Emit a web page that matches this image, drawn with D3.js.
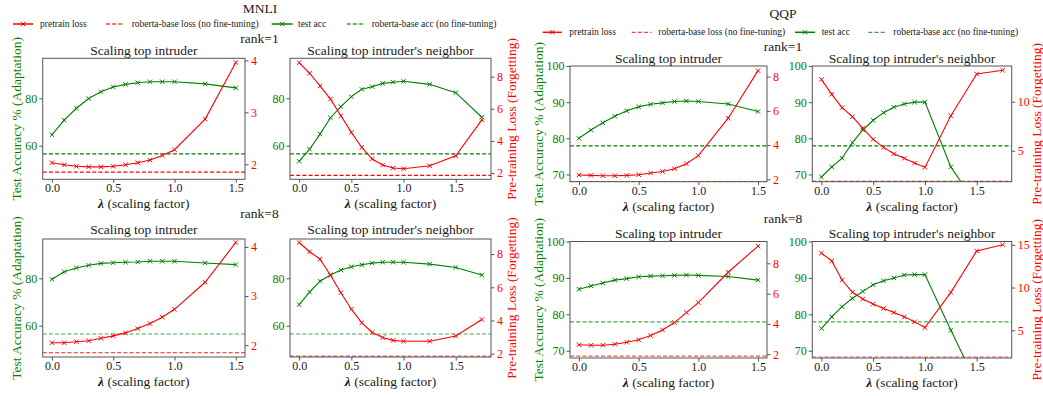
<!DOCTYPE html>
<html><head><meta charset="utf-8">
<script src="https://cdn.jsdelivr.net/npm/d3@7"></script>
<style>
body{margin:0;background:#fff}
svg{display:block}
text{font-family:"Liberation Serif","Times New Roman",serif}
</style>
</head><body>
<svg id="c" width="1043" height="396"></svg>
<script>
// ---------------- DATA ----------------
const lambdaIntruder = [0,0.1,0.2,0.3,0.4,0.5,0.6,0.7,0.8,0.9,1.0,1.25,1.5];
const lambdaNeighbor = [0,0.1,0.2,0.3,0.4,0.5,0.6,0.7,0.8,0.9,1.0,1.25,1.5,1.75];
const xTicks = [0,0.5,1.0,1.5];

// MNLI
const mnliR1IntruderAcc  = [64.6,70.8,75.8,79.9,82.8,84.8,85.9,86.6,87.0,87.0,87.0,86.1,84.4];
const mnliR1IntruderLoss = [2.03,1.99,1.96,1.95,1.95,1.96,1.99,2.03,2.08,2.17,2.28,2.87,3.96];
const mnliR1NeighborAcc  = [53.4,58.5,64.9,71.8,76.5,80.7,83.8,84.9,86.3,86.8,87.2,85.9,82.4,72.0];
const mnliR1NeighborLoss = [8.87,8.21,7.42,6.6,5.56,4.53,3.59,2.87,2.5,2.31,2.27,2.45,3.07,5.31];
const mnliR8IntruderAcc  = [79.6,82.8,84.4,85.5,86.3,86.6,86.8,86.9,87.2,87.2,87.2,86.5,85.8];
const mnliR8IntruderLoss = [2.05,2.05,2.07,2.09,2.14,2.19,2.25,2.34,2.44,2.57,2.73,3.28,4.09];
const mnliR8NeighborAcc  = [68.9,74.2,78.8,81.4,83.5,84.9,85.7,86.4,86.8,86.8,86.8,86.0,84.6,81.4];
const mnliR8NeighborLoss = [8.7,8.14,7.7,6.73,5.67,4.68,3.86,3.28,2.97,2.8,2.75,2.75,3.07,4.06];
const mnliBaseAcc = 56.5;
const mnliBaseLoss = 1.85;

// QQP
const qqpR1IntruderAcc  = [80.0,82.3,84.3,86.1,87.6,88.7,89.4,89.8,90.2,90.3,90.2,89.5,87.4];
const qqpR1IntruderLoss = [2.25,2.23,2.21,2.21,2.23,2.27,2.37,2.46,2.62,2.91,3.38,5.57,8.35];
const qqpR1NeighborAcc  = [69.3,72.1,74.5,78.8,82.3,85.0,87.1,88.6,89.5,90.0,90.0,72.1,61.5,55.0];
const qqpR1NeighborLoss = [12.28,10.75,9.39,8.47,7.28,6.16,5.34,4.69,4.22,3.74,3.3,8.57,12.82,13.2];
const qqpR8IntruderAcc  = [86.9,87.8,88.6,89.4,89.8,90.3,90.5,90.6,90.7,90.8,90.7,90.4,89.4];
const qqpR8IntruderLoss = [2.62,2.59,2.59,2.66,2.79,2.95,3.23,3.6,4.09,4.75,5.41,7.41,9.14];
const qqpR8NeighborAcc  = [76.1,79.3,82.1,84.4,86.3,88.1,89.2,90.0,90.8,90.9,90.9,75.6,61.0,55.0];
const qqpR8NeighborLoss = [14.02,13.12,10.88,9.45,8.65,8.06,7.55,7.08,6.57,5.98,5.31,9.43,14.29,15.0];
const qqpBaseAcc = 77.9;
const qqpBaseLoss = 1.87;

const mnliAccTicks = [60,80];
const qqpAccTicks = [70,80,90,100];
const lossTicksSmall = [2,3,4];
const lossTicksMid = [2,4,6,8];
const lossTicksBig1 = [5,10];
const lossTicksBig2 = [5,10,15];

const titleIntruder = "Scaling top intruder";
const titleNeighbor = "Scaling top intruder's neighbor";
const legendLabels = ["pretrain loss","roberta-base loss (no fine-tuning)","test acc","roberta-base acc (no fine-tuning)"];
const datasetNames = ["MNLI","QQP"];
const rankNames = ["rank=1","rank=8"];

// ---------------- STYLE ----------------
const GREEN = "#008000", RED = "#ff0000", SPINE = "#555", INK = "#1a1a1a";
const svg = d3.select("#c");

const panels = [
  // MNLI rank=1
  {acc:mnliR1IntruderAcc, loss:mnliR1IntruderLoss, lam:lambdaIntruder, bAcc:mnliBaseAcc, bLoss:mnliBaseLoss,
   x0:42.7,x1:245,y0:58.3,y1:179.3, xd:[-0.075,1.575], ad:[45.8,96.9], ld:[1.71,4.04], at:mnliAccTicks, lt:lossTicksSmall,
   title:titleIntruder, ty:50, left:true, dashOp:1},
  {acc:mnliR1NeighborAcc, loss:mnliR1NeighborLoss, lam:lambdaNeighbor, bAcc:mnliBaseAcc, bLoss:mnliBaseLoss,
   x0:290,x1:491,y0:58.3,y1:179.3, xd:[-0.0875,1.8375], ad:[45.8,96.9], ld:[1.61,9.14], at:mnliAccTicks, lt:lossTicksMid,
   title:titleNeighbor, ty:50, right:true, rlx:511.7, dashOp:1},
  // MNLI rank=8
  {acc:mnliR8IntruderAcc, loss:mnliR8IntruderLoss, lam:lambdaIntruder, bAcc:mnliBaseAcc, bLoss:mnliBaseLoss,
   x0:42.7,x1:245,y0:239,y1:357, xd:[-0.075,1.575], ad:[46.8,96.6], ld:[1.76,4.16], at:mnliAccTicks, lt:lossTicksSmall,
   title:titleIntruder, ty:229.5, left:true, dashOp:0.7},
  {acc:mnliR8NeighborAcc, loss:mnliR8NeighborLoss, lam:lambdaNeighbor, bAcc:mnliBaseAcc, bLoss:mnliBaseLoss,
   x0:290,x1:491,y0:239,y1:357, xd:[-0.0875,1.8375], ad:[46.8,96.6], ld:[1.80,8.91], at:mnliAccTicks, lt:lossTicksMid,
   title:titleNeighbor, ty:229.5, right:true, rlx:511.7, dashOp:0.7},
  // QQP rank=1
  {acc:qqpR1IntruderAcc, loss:qqpR1IntruderLoss, lam:lambdaIntruder, bAcc:qqpBaseAcc, bLoss:qqpBaseLoss,
   x0:570,x1:767,y0:66,y1:181.7, xd:[-0.075,1.575], ad:[68,100], ld:[1.86,8.62], at:qqpAccTicks, lt:lossTicksMid,
   title:titleIntruder, ty:58.3, left:true, llx:538, dashOp:1},
  {acc:qqpR1NeighborAcc, loss:qqpR1NeighborLoss, lam:lambdaNeighbor, bAcc:qqpBaseAcc, bLoss:qqpBaseLoss,
   x0:812.3,x1:1011.7,y0:66,y1:181.7, xd:[-0.0875,1.8375], ad:[68,100], ld:[1.84,13.64], at:qqpAccTicks, lt:lossTicksBig1,
   title:titleNeighbor, ty:58.3, right:true, rlx:1036.5, dashOp:1},
  // QQP rank=8
  {acc:qqpR8IntruderAcc, loss:qqpR8IntruderLoss, lam:lambdaIntruder, bAcc:qqpBaseAcc, bLoss:qqpBaseLoss,
   x0:570,x1:767,y0:241.5,y1:358, xd:[-0.075,1.575], ad:[68,100], ld:[1.75,9.44], at:qqpAccTicks, lt:lossTicksMid,
   title:titleIntruder, ty:233.3, left:true, llx:538, dashOp:0.7},
  {acc:qqpR8NeighborAcc, loss:qqpR8NeighborLoss, lam:lambdaNeighbor, bAcc:qqpBaseAcc, bLoss:qqpBaseLoss,
   x0:812.3,x1:1011.7,y0:241.5,y1:358, xd:[-0.0875,1.8375], ad:[68,100], ld:[1.75,15.39], at:qqpAccTicks, lt:lossTicksBig2,
   title:titleNeighbor, ty:233.3, right:true, rlx:1036.5, dashOp:0.7}
];

function xMarker(g, pts, color){
  const s = 2.2;
  g.selectAll(null).data(pts).enter().append("path")
    .attr("d", d => `M${d[0]-s},${d[1]-s}L${d[0]+s},${d[1]+s}M${d[0]-s},${d[1]+s}L${d[0]+s},${d[1]-s}`)
    .attr("stroke", color).attr("stroke-width", 1).attr("fill","none");
}

panels.forEach((p, i) => {
  const g = svg.append("g");
  const x = d3.scaleLinear().domain(p.xd).range([p.x0, p.x1]);
  const yA = d3.scaleLinear().domain(p.ad).range([p.y1, p.y0]);
  const yL = d3.scaleLinear().domain(p.ld).range([p.y1, p.y0]);
  const cid = "clip" + i;
  svg.append("clipPath").attr("id", cid).append("rect")
    .attr("x", p.x0).attr("y", p.y0).attr("width", p.x1 - p.x0).attr("height", p.y1 - p.y0);
  const plot = g.append("g").attr("clip-path", `url(#${cid})`);

  // accuracy
  const accPts = p.lam.map((l, k) => [x(l), yA(p.acc[k])]);
  plot.append("path").attr("d", d3.line()(accPts)).attr("fill","none").attr("stroke",GREEN).attr("stroke-width",1.1);
  xMarker(plot, accPts, GREEN);
  plot.append("line").attr("x1",p.x0).attr("x2",p.x1).attr("y1",yA(p.bAcc)).attr("y2",yA(p.bAcc))
    .attr("stroke",GREEN).attr("stroke-width",1.2).attr("stroke-dasharray","4,2.2").attr("opacity",p.dashOp);

  // loss
  const lossPts = p.lam.map((l, k) => [x(l), yL(p.loss[k])]);
  plot.append("path").attr("d", d3.line()(lossPts)).attr("fill","none").attr("stroke",RED).attr("stroke-width",1.1);
  xMarker(plot, lossPts, RED);
  plot.append("line").attr("x1",p.x0).attr("x2",p.x1).attr("y1",yL(p.bLoss)).attr("y2",yL(p.bLoss))
    .attr("stroke",RED).attr("stroke-width",1.2).attr("stroke-dasharray","4,2.2").attr("opacity",p.dashOp);

  // frame
  g.append("rect").attr("x",p.x0).attr("y",p.y0).attr("width",p.x1-p.x0).attr("height",p.y1-p.y0)
    .attr("fill","none").attr("stroke",SPINE).attr("stroke-width",1);

  // axes
  const ax = g.append("g").attr("transform",`translate(0,${p.y1})`)
    .call(d3.axisBottom(x).tickValues(xTicks).tickFormat(d3.format(".1f")).tickSize(3.5).tickPadding(0.8));
  const ay = g.append("g").attr("transform",`translate(${p.x0},0)`)
    .call(d3.axisLeft(yA).tickValues(p.at).tickFormat(d3.format("d")).tickSize(3.5).tickPadding(2));
  const ar = g.append("g").attr("transform",`translate(${p.x1},0)`)
    .call(d3.axisRight(yL).tickValues(p.lt).tickFormat(d3.format("d")).tickSize(3.5).tickPadding(2.5));
  [ax, ay, ar].forEach(a => {
    a.select(".domain").remove();
    a.selectAll(".tick line").attr("stroke", SPINE);
    a.selectAll(".tick text").attr("font-size", 12).attr("font-family",'"Liberation Serif",serif');
  });
  ax.selectAll(".tick text").attr("fill",INK);
  ay.selectAll(".tick text").attr("fill",GREEN);
  ar.selectAll(".tick text").attr("fill",RED);

  // title
  g.append("text").attr("x",(p.x0+p.x1)/2).attr("y",p.ty).attr("text-anchor","middle")
    .attr("dominant-baseline","central").attr("font-size",13.5).attr("fill",INK).text(p.title);

  // x label
  const xl = g.append("text").attr("x",(p.x0+p.x1)/2).attr("y",p.y1+24).attr("text-anchor","middle")
    .attr("dominant-baseline","central").attr("font-size",13.5).attr("fill",INK);
  xl.append("tspan").attr("font-style","italic").attr("font-weight","bold").text("λ");
  xl.append("tspan").text(" (scaling factor)");

  // y labels
  const cy = (p.y0 + p.y1) / 2;
  if (p.left) {
    const lx = p.llx || 16;
    g.append("text").attr("transform",`translate(${lx},${cy}) rotate(-90)`).attr("text-anchor","middle")
      .attr("dominant-baseline","central").attr("font-size",13.5).attr("fill",GREEN)
      .text("Test Accuracy % (Adaptation)");
  }
  if (p.right) {
    g.append("text").attr("transform",`translate(${p.rlx},${cy}) rotate(-90)`).attr("text-anchor","middle")
      .attr("dominant-baseline","central").attr("font-size",13.5).attr("fill",RED)
      .text("Pre-training Loss (Forgetting)");
  }
});

// super titles and rank labels
const headers = [
  {t:datasetNames[0], x:260, y:8.5}, {t:datasetNames[1], x:783, y:13},
  {t:rankNames[0], x:259.5, y:38}, {t:rankNames[1], x:259.5, y:213},
  {t:rankNames[0], x:783, y:46.5}, {t:rankNames[1], x:783, y:218.3}
];
headers.forEach(h => svg.append("text").attr("x",h.x).attr("y",h.y).attr("text-anchor","middle")
  .attr("dominant-baseline","central").attr("font-size",13.5).attr("fill",INK).text(h.t));

// legends
const legends = [
  {y:24, items:[[13,33,40],[106,124,131.7],[271.7,292.7,298],[346.7,365,371.7]]},
  {y:32.3, items:[[542.7,561.7,569.3],[631.7,651.7,658.3],[795,815,821.7],[868.3,886,893.3]]}
];
const legendStyle = [
  {c:RED, dash:false}, {c:RED, dash:true}, {c:GREEN, dash:false}, {c:GREEN, dash:true}
];
legends.forEach(L => {
  L.items.forEach((it, k) => {
    const st = legendStyle[k];
    const g = svg.append("g");
    g.append("line").attr("x1",it[0]).attr("x2",it[1]).attr("y1",L.y).attr("y2",L.y)
      .attr("stroke",st.c).attr("stroke-width",st.dash ? 1.3 : 1.5)
      .attr("stroke-dasharray", st.dash ? "4,2.2" : null).attr("opacity", st.dash ? 0.75 : 1);
    if (!st.dash) xMarker(g, [[(it[0]+it[1])/2, L.y]], st.c);
    g.append("text").attr("x",it[2]).attr("y",L.y).attr("dominant-baseline","central")
      .attr("font-size",9.5).attr("fill",INK).text(legendLabels[k]);
  });
});
</script>
</body></html>
